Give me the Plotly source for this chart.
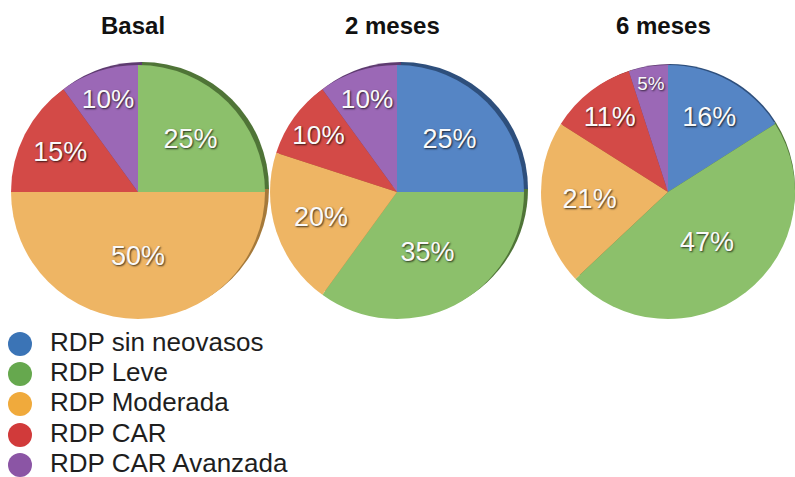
import plotly.graph_objects as go

# Categories and values (percent of patients)
categories = ["RDP sin neovasos", "RDP Leve", "RDP Moderada", "RDP CAR", "RDP CAR Avanzada"]
basal = [0, 25, 50, 15, 10]
meses_2 = [25, 35, 20, 10, 10]
meses_6 = [16, 47, 21, 11, 5]
titles = ["Basal", "2 meses", "6 meses"]

slice_colors = ["#5585C5", "#8CC06B", "#EEB564", "#D34A47", "#9B68B6"]
rim_colors = ["#2E4F7C", "#4F7437", "#A5793A", "#8A2C2A", "#5E3B70"]
legend_colors = ["#3B74B6", "#66A84E", "#F0AA3C", "#D13A3A", "#8B55A5"]

W, H = 795, 477
R = 127
centers = [(138, 192), (397, 192), (668, 192)]
FONT = "Liberation Sans, Arial, sans-serif"


def dom(cx, cy, r):
    return dict(x=[max(0, (cx - r) / W), min(1, (cx + r) / W)],
                y=[max(0, 1 - (cy + r) / H), min(1, 1 - (cy - r) / H)])


fig = go.Figure()

series = [basal, meses_2, meses_6]
for (cx, cy), vals in zip(centers, series):
    # darker copy slightly offset up-right to give the disc an edge
    fig.add_trace(go.Pie(
        labels=categories, values=vals, sort=False, direction="clockwise", rotation=0,
        marker=dict(colors=rim_colors, line=dict(width=0)),
        textinfo="none", hoverinfo="skip", showlegend=False,
        domain=dom(cx + 4, cy - 3, R),
    ))
    fig.add_trace(go.Pie(
        labels=categories, values=vals, sort=False, direction="clockwise", rotation=0,
        marker=dict(colors=slice_colors, line=dict(width=0)),
        texttemplate=["%{value}%" if v > 0 else "" for v in vals],
        textposition="inside", insidetextorientation="horizontal",
        textfont=dict(family=FONT, size=27, color="#FAFAFA",
                      shadow="1px 1px 2px rgba(0,0,0,0.75)"),
        showlegend=False,
        domain=dom(cx, cy, R),
    ))

# legend drawn as markers and text on a hidden pixel-scaled axis
legend_y = [344, 374, 404, 435, 465]
fig.add_trace(go.Scatter(
    x=[20] * len(categories), y=legend_y, mode="markers",
    marker=dict(size=24, color=legend_colors, line=dict(width=0)),
    hoverinfo="skip", showlegend=False,
))
fig.add_trace(go.Scatter(
    x=[50] * len(categories), y=legend_y, mode="text", text=categories,
    textposition="middle right",
    textfont=dict(family=FONT, size=26, color="#1E1E1E"),
    hoverinfo="skip", showlegend=False,
))

for (cx, cy), t in zip(centers, titles):
    fig.add_annotation(
        x=(cx - 5) / W, y=1 - 25 / H, xref="paper", yref="paper", text=f"<b>{t}</b>",
        showarrow=False, font=dict(family=FONT, size=24, color="#111111"),
        xanchor="center", yanchor="middle",
    )

fig.update_layout(
    width=W, height=H, margin=dict(l=0, r=0, t=0, b=0),
    paper_bgcolor="white", plot_bgcolor="white",
    xaxis=dict(range=[0, W], domain=[0, 1], visible=False, fixedrange=True),
    yaxis=dict(range=[H, 0], domain=[0, 1], visible=False, fixedrange=True),
    showlegend=False,
)

fig.write_html("out.html")
